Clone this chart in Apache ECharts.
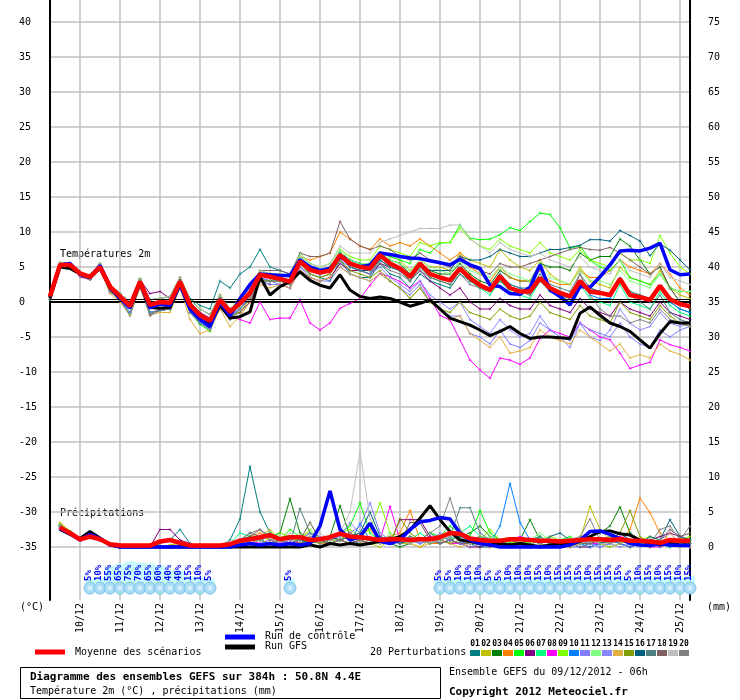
<!DOCTYPE html>
<html>
<head>
<meta charset="utf-8">
<script src="https://cdn.jsdelivr.net/npm/echarts@6/dist/echarts.min.js"></script>
<style>html,body{margin:0;padding:0;background:#fff}#chart{width:740px;height:700px}</style>
</head>
<body>
<div id="chart"></div>
<script>
// axe des temps : pas de 6h depuis le 09/12 06h
var dayLabels = ['10/12','11/12','12/12','13/12','14/12','15/12','16/12','17/12','18/12','19/12','20/12','21/12','22/12','23/12','24/12','25/12'];
var tempTicks = [-35,-30,-25,-20,-15,-10,-5,0,5,10,15,20,25,30,35,40];
var precTicks = [0,5,10,15,20,25,30,35,40,45,50,55,60,65,70,75];
var memberNames = ['01','02','03','04','05','06','07','08','09','10','11','12','13','14','15','16','17','18','19','20'];
var memberColors = ['#008080','#c0c000','#008000','#ff8000','#00ff00','#800080','#00ff80','#ff00ff','#80ff00','#0080ff',
                    '#8080ff','#80ff80','#8888ff','#e0b040','#80a000','#006080','#508080','#806060','#c0c0c0','#808080'];

// températures 2m
var tMean = [0.8,5.3,5.3,4.1,3.6,5.0,2.2,0.8,-0.6,2.9,-0.4,0.0,-0.1,2.9,-0.4,-1.9,-2.7, 0.3,-1.4,-0.2,1.3,3.9,3.6,3.3,2.9,5.8,4.6,4.2,4.5,6.7,5.5,5.0,4.8, 6.7,5.5,4.8,3.6,5.5,4.0,3.5,3.1,4.8,3.4,2.4,1.7,3.7,2.0,1.5,1.5, 3.4,2.0,1.3,0.8,3.0,1.5,1.3,1.0,3.3,1.0,0.7,0.3,2.3,0.4,-0.3,-0.6];
var tCtrl = [0.8,5.3,5.5,4.0,3.5,5.2,2.2,0.5,-0.8,2.8,-0.8,-0.3,-0.5,2.5,-1.0,-2.5,-3.5, 0.0,-2.0,0.5,2.5,4.0,3.9,3.8,3.8,6.0,5.0,4.5,4.8,6.5,5.5,5.0,5.3, 7.0,6.8,6.5,6.3,6.2,5.9,5.6,5.3,6.1,5.3,4.8,2.4,2.2,1.2,1.1,2.1, 5.3,1.7,0.8,-0.4,2.2,2.1,3.6,5.3,7.3,7.4,7.3,7.7,8.4,4.6,3.9,4.0];
var tGfs = [0.5,5.0,4.8,4.0,3.5,4.8,2.0,0.5,-0.8,2.7,-0.8,-0.9,-0.8,2.5,-0.8,-2.5,-3.2, -0.5,-2.3,-2.1,-1.4,3.6,1.0,2.2,2.9,4.3,3.1,2.4,2.0,3.9,1.7,0.8,0.5, 0.7,0.5,0.0,-0.6,-0.2,0.3,-1.0,-2.3,-2.8,-3.3,-4.0,-4.8,-4.2,-3.5,-4.5,-5.2, -5.0,-5.0,-5.1,-5.2,-1.6,-0.7,-1.9,-3.0,-3.5,-4.2,-5.4,-6.6,-4.5,-2.8,-3.0,-3.0];

var t01 = [1.2,5.6,5.5,4.2,3.8,5.5,2.5,1.2,0.0,3.3,0.3,0.5,0.8,3.5,0.5,-0.5,-1.0, 3,2,4,5,7.5,5,4.5,4,6,4,3.5,3,6,4,3.5,3.5, 5.5,4,3.5,2,4,3,2.5,2,4,3,2,1.5,3,2,1.5,1, 3,2,1.5,1,2.5,2,1.5,1,3,1.5,1,0.5,2,0,-1,-1.5];
var t02 = [0.8,5.3,5.2,4.0,3.5,5.0,2.0,0.8,-0.8,2.8,-0.6,-0.1,0.0,2.8,-0.5,-2.0,-2.8, 0,-2,-1,1,3.5,3,3,2.5,5,4,3.5,4,7,6,5.5,5, 7,6.5,6,4.5,6,5,5,4.5,7,6,5.5,5,7.5,6,5,4.5, 6,4,3,2.5,5,3,2.5,2,5,3.5,3,2.5,4.5,2,1,0.5];
var t03 = [0.4,5.0,5.0,3.8,3.2,4.8,1.5,0.3,-1.5,2.3,-1.5,-1.2,-1.0,2.3,-1.5,-3.0,-3.8, -0.5,-2.5,-1,1,3,3,3.5,3,6,5,4.5,5,7,6,5.5,5.5, 7,6,5.5,4,5.5,4.5,4,4,5.5,4,3,2.5,4.5,3.5,3,3, 5.5,5,5,4.5,7,6,6.5,6.5,9,8,6,4,5,2,0,-1];
var t04 = [1.2,5.6,5.5,4.2,3.8,5.5,2.5,1.2,0.0,3.3,0.3,0.5,0.8,3.5,0.3,-1.0,-1.8, 1,-1,0.5,2,4,4,4,3.5,6.5,6,6.5,7,10,9,8,7.5, 9,8,8.5,8,9,8,7,6,7,5,4,3,5,3.5,3,3, 4.5,3,2.5,2.5,4.5,3.5,3.5,4.5,6,5,4.5,4,5.5,4,2,1];
var t05 = [0.4,5.0,5.0,3.8,3.2,4.8,1.5,0.3,-1.8,2.3,-1.5,-1.2,-1.0,2.0,-1.5,-3.2,-4.2, 0,-2,-0.5,1.5,4,4,3.5,3,6,5,4.5,5,7,6,5.5,5.5, 7,6.5,6,5.5,7.5,7,8.4,8.5,11,9.1,8.9,9,9.6,10.6,10.2,11.5, 12.7,12.5,10.6,7.7,8,6,5,4.5,6,3.5,3,2.5,4,2,1.5,1.5];
var t06 = [1.0,5.5,5.5,3.6,3.2,5.3,2.2,1.0,0.0,3.2,1.2,1.5,0.5,3.0,0.0,-1.5,-2.3, 0.5,-2,-1.5,0,3,2.5,2.5,2,4.5,3.5,3,3.5,5.5,4.5,4.5,4, 5.5,5,4.5,3,4.5,3,2,1,2,0,-1,-1,0.5,-0.5,-1,-1, 1,-0.5,-1,-1.5,0.5,-1,-1.5,-2,0,-1,-1.5,-2,0,-1.5,-2,-2.5];
var t07 = [0.8,5.3,5.2,4.0,3.5,5.0,2.0,0.8,-0.8,2.8,-0.6,-0.1,0.0,2.8,-0.5,-2.0,-2.8, 0.5,-1.5,0,1.5,4,3.5,3.5,3,6.5,5,4.5,5,6.5,5,4.5,4.5, 6,5,4.5,3,5,3.5,3,2.5,4.5,3,2,1,3,1.5,1,0.5, 3,1.5,1,0,2.5,0.5,0,-0.5,2.5,0,-0.5,-1,1.5,-0.5,-1.5,-2];
var t08 = [0.8,5.3,5.0,3.8,3.3,4.8,1.8,0.5,-0.8,2.5,-0.8,-0.3,0.0,2.6,-0.5,-2.2,-3.0, 0,-2,-2.5,-3,0,-2.5,-2.3,-2.3,0.3,-3,-4,-3,-0.9,-0.2,0.5,2.4, 4.1,3.6,2.9,2,3,0.5,-1.9,-2.6,-5.4,-8.3,-9.7,-10.9,-8,-8.3,-8.9,-8, -5.2,-4,-4.5,-5,-3,-4,-5,-5.4,-7.3,-9.5,-9,-8.6,-5.4,-6.1,-6.5,-7];
var t09 = [1.2,5.6,5.5,4.2,3.8,5.5,2.5,1.2,0.0,3.3,0.3,0.5,0.8,3.5,0.3,-1.0,-1.8, 1,-1,0.5,2,4.5,4,4,3.5,6.5,5.5,5,5.5,7.5,6.5,6,6, 8,7.5,7,6.5,8.5,8,8.5,8.5,10.5,9,8,7.5,9,8,7.5,7, 8.5,7,6.5,6,7.5,6,5.5,5,7,6,6,5.5,9.5,7,5,4];
var t10 = [0.4,5.0,5.0,3.8,3.2,4.8,1.5,0.3,-1.5,2.3,-1.5,-1.2,-1.0,2.3,-1.5,-3.0,-3.8, 0,-2,-1,1,3.5,3,3,2.5,6,4.5,4,4.5,7,6,5.5,5, 6,5,4.5,3.5,5.5,4,3.5,3,5,3,2.5,2,4,2.5,2,1.5, 3.5,2,1,0.5,3,1,0.5,0.5,3,1,0.5,0,2,0,-1,-1.5];
var t11 = [0.4,5.0,5.0,3.8,3.2,4.8,1.5,0.3,-1.5,2.3,-1.5,-1.2,-1.0,2.3,-1.5,-3.0,-3.8, 0,-2,-1,1,3.5,3,2.5,2,5,3.5,3,3,5,4,3.5,3, 4,3,2,1,2.5,0,-1,-2,-2,-4.5,-5,-6,-4,-6,-6.5,-5.5, -3,-4,-5,-5.5,-3,-4,-4.5,-5,-3,-5,-6,-6.5,-4,-5,-4,-3.5];
var t12 = [1.2,5.6,5.5,4.2,3.8,5.5,2.5,1.2,0.0,3.3,0.3,0.5,0.8,3.5,0.3,-1.0,-1.8, 1,-1,0.5,2,4.5,4,4,3.5,7,5.5,5,5.5,7.5,6,5.5,5.5, 7,6,5.5,4.5,6,5,4.5,4,6,4.5,4,3.5,5,4,3.5,3, 5,3.5,3,2.5,4.5,3,3,2.5,4.5,3,2.5,2,4,2,1.5,1.5];
var t13 = [0.8,5.3,5.2,4.0,3.5,5.0,2.0,0.8,-0.8,2.8,-0.6,-0.1,0.0,2.8,-0.5,-2.0,-2.8, 0.5,-1.5,-1,0.5,3,2.5,2.5,2,5,4,3.5,4,6,5,4.5,4, 5,3.5,2.5,1.5,3,1,0,-1,0,-2.5,-3.5,-4.5,-2.5,-4,-5,-4.5, -2,-4,-5,-6.5,-3,-5,-5.5,-4,-1,-3,-4,-3.5,-1.5,-3,-3.5,-3];
var t14 = [0.5,5.0,5.0,3.8,3.2,4.8,1.2,0.0,-1.8,2.0,-1.8,-1.5,-1.5,2.0,-2.5,-4.5,-4.0, -1,-3.5,-2,0,2.5,2,2.5,2,4.5,3.5,3,3.5,5,4,3.5,3, 4,3,2,0.5,2,0,-1,-2.5,-2,-4.5,-5.5,-6.5,-5,-7.3,-7,-6.5, -4,-5,-5.5,-6,-4,-5,-6,-7,-6,-8,-7.5,-8,-6,-7,-7.5,-8.3];
var t15 = [0.8,5.3,5.2,4.0,3.5,5.0,2.0,0.8,-0.8,2.8,-0.6,-0.1,0.0,2.8,-0.5,-2.0,-2.8, 0,-2,-1.5,0.5,3,3,3,2.5,5.5,4,3.5,4,6,4.5,4,3.5, 4.5,3,2,0.5,2,0,-1,-1.5,0,-1.5,-2,-2.5,-1,-2,-2.5,-2, 0,-1.5,-2,-2.5,-0.5,-2,-2.5,-3,0,-1.5,-2,-2.5,-0.5,-2,-3,-3.5];
var t16 = [0.8,5.3,5.2,4.0,3.5,5.0,2.0,0.8,-0.8,2.8,-0.6,-0.1,0.0,2.8,-0.5,-2.0,-2.8, 0.5,-1.5,0,1.5,4,3.5,3.5,3,6,4.5,4,4.5,6.5,5,4.5,4.5, 6,5,4.5,3.5,5.5,4.5,4.5,4.5,6.5,6,6,6.5,7.5,7,6.5,6.5, 7,7.5,7.5,7.8,8.1,8.9,8.9,8.7,10.2,9.5,8.7,6.6,8.3,7.4,6,4.6];
var t17 = [1.2,5.6,5.5,4.2,3.8,5.5,2.5,1.2,0.0,3.3,0.3,0.5,0.8,3.5,0.3,-1.0,-1.8, 1,-1,0,1.5,4,3.5,3.5,3,6,4.5,4,4.5,6.5,5,4.5,4, 6,5,4.5,3,5,3.5,3,2.5,4.5,3,2.5,2,4,2.5,2,2, 4,2.5,2,1.5,4,2,1.5,1,3.5,1,0,-1,1,-1.5,-2.5,-3];
var t18 = [0.6,5.2,5.3,4.0,3.6,5.2,2.3,1.0,-0.5,3.0,-1.8,-1.0,-0.5,3.2,-0.5,-2.5,-3.5, 0.5,-1.5,0.5,2,4.5,4.5,4.5,4,7,6.5,6.5,7,11.5,9,8,7.5, 8,7.5,6.5,6,7,6,5.5,5,6.5,5,4.5,4,5.5,5,5,5.5, 6,6.5,7,7.5,7.8,7.5,7.4,7.8,7,6,5,4,5,2,0,-1];
var t19 = [1.2,5.6,5.5,4.2,3.8,5.5,2.5,1.2,0.0,3.3,0.3,0.5,0.8,3.5,0.3,-1.0,-1.8, 1,-1,0.5,2,4.5,4,4,3.5,6.5,5.5,5,5.5,8,7,7,7, 8.5,9,9.5,10,10.5,10.5,10.5,11,11,9,8,7,8.5,7.5,7,6.5, 7,6,5.5,5,6.5,5,4.5,4,6,4.5,4,3.5,5.5,3.5,3,2.5];
var t20 = [0.4,5.0,5.0,3.8,3.2,4.8,1.5,0.3,-2.0,2.3,-2.0,-1.2,-1.0,2.3,-1.5,-3.0,-4.0, -0.5,-2.5,-1,0.5,3,3,3,2.5,5.5,4.5,4,4.5,6.5,5.5,5,4.5, 5.5,4.5,4,3,4.5,3.5,3,2.5,4,2.5,2,1.5,3,2,1.5,1, 3,1.5,1,0.5,4,1,-1,-2,-2,-3,-2.5,-3,-1,-2.5,-3,-3.5];

// précipitations (mm / 6h)
var pMean = ['-',2.8,2.0,1.1,1.5,1.1,0.4,0.2,0.2,0.2,0.2, 0.8,1.0,0.6,0.2,0.2,0.2,0.2,0.4,0.9,1.1, 1.4,1.7,1.1,1.4,1.4,1.0,1.1,1.4,1.9,1.5, 1.4,1.2,1.0,1.1,1.1,1.0,1.1,1.1,1.4,2.0, 1.9,1.2,1.0,0.9,0.9,1.1,1.1,1.0,0.9,0.9, 0.8,0.9,1.0,1.1,1.1,1.0,1.1,0.9,0.9,0.8, 0.6,1.0,0.9,0.9];
var pCtrl = ['-',2.6,1.9,1.0,1.8,1.2,0.3,0,0,0,0, 0,0,0,0,0,0,0,0,0.3,0.5, 0.3,0.5,0.3,0.5,0.3,0.5,3.0,8.0,2.5,1.0, 1.5,3.4,0.8,0.5,1.0,2.5,3.6,3.8,4.2,4.0, 2.0,1.0,0.5,0.3,0,0,0,0,0,0, 0,0.3,1.0,2.2,2.3,1.8,1.2,0.5,0.3,0.2, 0.5,0.3,0.2,0.2];
var pGfs = ['-',2.5,1.8,1.2,2.2,1.3,0.3,0,0,0,0, 0,0,0,0,0,0,0,0,0,0, 0,0,0,0,0,0.3,0,0.5,0.3,0.5, 0.3,0.5,0.8,1,1.5,2.4,4.1,5.9,3.9,2.2, 1,0.8,0.5,0.3,0.5,0.3,0.5,0.3,0,0.3, 0.5,0.3,0.8,1.5,2.2,2.3,1.9,1.7,1,0.5, 0.3,0.5,0.3,0.3];

var p01 = ['-',3.2,2,1,1.5,1.2,0.3,0,0,0,0, 0.5,1,2.5,0.5,0,0,0,1,4,11.5, 5,2,1,1.5,0.5,1,0.5,1,2,1, 0.5,1,0.5,1,0.5,1.5,1,0.5,0.5,1, 1.5,0.5,0,0,0.5,1,0.5,0,1.5,0.5, 0,0.5,1,0.5,0,0.5,1,2,0.5,0, 0.5,1,0.5,0];
var p02 = ['-',2.8,2,1.2,1.5,1,0.2,0,0,0,0, 0,0.3,0.5,0,0,0,0,0,0.5,1, 1.5,2.5,1,0.5,1,0.5,0,0.5,1,0.5, 1,0.5,0,1,0.5,0.5,0,1,1.5,1, 0.5,1,1.5,1,0.5,0,0.5,1,0.5,1, 0.5,0,1,5.8,2.5,1,0.5,0,0.5,0.5, 1,0.5,0,0.5];
var p03 = ['-',2.6,1.8,1,1.4,1,0.3,0,0,0,0, 0,0,0.3,0,0,0,0,0,0.5,1, 1,1.5,2,6.9,2,1,0.5,1.5,5.9,1.5, 1,0.5,1,0.5,0,0.5,1,1.5,0.5,1, 1.5,2,3,1.5,1,0.5,1,3.9,1,0.5, 0,0.5,1,1.5,2,3,5.7,2,1,0.5, 0.5,1,0.5,0.5];
var p04 = ['-',3.5,2.2,1,1.5,1,0.5,0,0,0,0, 0,0,0,0,0,0,0,0,0.5,1.5, 2,1,0.5,1,1.5,2,1,0.5,1,1.5, 2,2.5,1,1.5,2,5.2,1,0.5,0.5,1, 0.5,0,0.5,1,0.5,1,0.5,0,0.5,1, 0.5,0,0.5,1,0.5,0.5,1,2.5,7,4.9, 2,1,0.5,0.5];
var p05 = ['-',3,2,1,1.5,1,0.3,0,0,0,0, 0,0,0,0,0,0,0,0.5,1,1.5, 1,2,1,2.5,1.5,1,0.5,1,2,3, 6.3,2,1,0.5,1,0.5,1,2,1.5,3, 2,1.5,5.2,2,1,0.5,1,0.5,0,0.5, 1,1.5,0.5,1,0.5,0,0.5,1,0.5,1, 0.5,0,1,0.5];
var p06 = ['-',2.5,1.8,1,1.3,1,0.2,0,0,0,0, 2.5,2.5,1,0.5,0,0,0,0,0.5,1, 1,0.5,1,1.5,1,0.5,1,0.5,1,0.5, 1,0.5,1,0.5,3.9,3.9,3.9,1.5,0.5,1, 0.5,0,0,0.5,0,0,0.5,0,0,0.5, 0,0.5,0,0,0.5,1,0.5,0,0.5,1, 1.5,2,1.5,1];
var p07 = ['-',3,2.2,1,1.5,1.2,0.4,0,0,0,0, 0,0,0,0,0,0,0,0.5,2,1.5, 1.5,2,1,0.5,1,2,1,0.5,1,1.5, 2,1,0.5,1,0.5,1,2,1,0.5,1, 2,3,1.5,1,0.5,1,0.5,1,1.5,0.5, 1,0.5,1,1.5,1,0.5,1,0.5,0,0.5, 1,0.5,0.5,1];
var p08 = ['-',2.7,2,1,1.5,1,0.2,0,0,0,0, 0,0,0,0,0,0,0,0,0.5,1, 0.5,1,0.5,1,0.5,1,0.5,1,1.5,2, 1,0.5,1,5.8,1,0.5,1,1.5,1,0.5, 0.5,1,0.5,0,0.5,1,1.5,1,0.5,0, 0,0.5,1,0.5,0.5,1,1.5,1,0.5,0, 0,0.5,0.5,0];
var p09 = ['-',3.3,2.3,1.2,1.6,1,0.4,0,0,0,0, 0,0,0,0,0,0,0,0.5,1,1.5, 1.5,1,2,1.5,1,2.5,1,1.5,2,2.5, 1.5,2.5,6.3,2,1,0.5,1,0.5,1,1.5, 1,0.5,1,2.5,1,0.5,1,0.5,1,1.5, 1,0.5,1,0.5,1,1.5,1,0.5,1,1.5, 1,0.5,1,1.5];
var p10 = ['-',3,2,1,1.5,1,0.3,0,0,0,0, 0,0,0,0,0,0,0,0,0.5,0.5, 1,0.5,1,1.5,1,0.5,1,0.5,1,0.5, 3.4,1,0.5,1,0.5,1,0.5,1,1.5,1, 0.5,1,1,0.5,3,9.1,3.5,1,0.5,0, 0.5,1,0.5,0,0.5,1,0.5,0,0.5,1, 0.5,0,0.5,0.5];
var p11 = ['-',2.9,2,1,1.4,1,0.3,0,0,0,0, 0,0,0,0,0,0,0,0,0.5,1, 1,1.5,1,0.5,1,2,1.5,1,1.5,2, 3,6.3,2,1,0.5,1,0.5,1,2,1, 0.5,1,0.5,0,0.5,0,0,0.5,0,0, 0.5,0,0,0.5,0,0.5,1,0.5,0,0.5, 1,2,0.5,0];
var p12 = ['-',3.1,2.1,1.1,1.5,1.1,0.3,0,0,0,0, 0,0,0,0,0,0,0,0.5,1,1.5, 1,2,1.5,1,1,3.5,1,0.5,1.5,1, 1.5,1,0.5,2,1,0.5,1,2,1,1.5, 1,0.5,1,1.5,1,0.5,0.5,1,2,1, 0.5,0.5,1,0.5,1,1.5,1,0.5,1,0.5, 0.5,1,0.5,1];
var p13 = ['-',2.8,1.9,1,1.4,1,0.3,0,0,0,0, 0,0,0,0,0,0,0,0,0,0.5, 0.5,1,0.5,1,1.5,1,0.5,1,1.5,3.5, 2,1,0.5,1,1.5,1,0.5,1,0.5,1, 0.5,0,0.5,1,0.5,0,0.5,0,0,0.5, 0,0.5,1,0.5,0,0.5,0,0.5,1,0.5, 0,0.5,1,0.5];
var p14 = ['-',3,2,1,1.5,1,0.3,0,0,0,0, 0,0,0,0,0,0,0,0,0.3,0.5, 1,2,1,0.5,0.5,1,0.5,0.5,1,0.5, 0.5,1,0.5,0.5,1,0.5,0,0.5,1,0.5, 0,0.5,0.5,0,0,0,0.5,0,0,0.5, 0,0,0.5,1,0.5,0,0.5,1,0.5,0, 0.5,2,0.5,0];
var p15 = ['-',2.9,2,1,1.5,1,0.3,0,0,0,0, 0,0,0,0,0,0,0,0,0.5,1, 1,0.5,1,1.5,0.5,1,0.5,1,1,2, 1,0.5,1,0.5,4.1,2,1,0.5,1,0.5, 1,0.5,0.5,1,0.5,0,0.5,1,0.5,0, 0.5,1,0.5,1.5,0.5,1,2,5.2,1.5,0.5, 0.5,1,0.5,0.5];
var p16 = ['-',3,2.1,1,1.5,1.1,0.3,0,0,0,0, 0,0,0,0,0,0,0,0.5,1,1.5, 1,1.5,1,0.5,1,0.5,1,1.5,1,1.5, 2,5,1.5,1,0.5,1,1,0.5,1,1.5, 1,0.5,1,0.5,0,0.5,0.5,1,0.5,1.5, 2,1,0.5,1,0.5,1,2,1,0.5,1.5, 1,3.9,1.5,1];
var p17 = ['-',3.1,2,1,1.5,1,0.4,0,0,0,0, 0,0,0,0,0,0,0,0.5,1,2, 1.5,2,1,0.5,5.5,2,1,0.5,1,1.5, 1,0.5,1,1.5,1,0.5,1,2,1,1.5, 5.6,5.6,2,1,0.5,1,0.5,1,1.5,0.5, 1,0.5,0,0.5,1,0.5,1,0.5,1,0.5, 0.5,1,0.5,0.5];
var p18 = ['-',2.9,2,1,1.6,1,0.3,0,0,0,0, 0,0,0,0,0,0,0,0,0.5,1.5, 2.5,1,1,0.5,1,3.5,1,0.5,1,0.5, 1,0.5,1.5,1,0.5,3.5,3.5,1,0.5,1, 0.5,0.5,1,0.5,0,0.5,0.5,0,0.5,1, 0.5,0,0.5,0.5,1,1.5,1,0.5,1,0.5, 1,2.5,1.5,2];
var p19 = ['-',3,2,1,1.4,1,0.3,0,0,0,0, 0,0,0,0,0,0,0,0,0.5,1, 1,1.5,1,2,1,1.5,2,1,2,5, 13.6,4,1,0.5,1,0.5,1,0.5,1,1.5, 1,0.5,1,0.5,0.5,1,0.5,0,0.5,1, 0.5,0,0.5,1,0.5,0.5,1,0.5,0,0.5, 1,0.5,0.5,0];
var p20 = ['-',3,2.1,1.1,1.5,1,0.3,0,0,0,0, 0,0,0,0,0,0,0,0.5,1,2, 2.5,1.5,1,0.5,1,1.5,1,0.5,1,1.5, 1,0.5,1,0.5,1,1.5,1,2,3,7, 2.5,1,1.5,1,0.5,1,0.5,1,0.5,1, 0.5,1,1.5,4,1,0.5,1,0.5,1,0.5, 2.5,3,1,3];

// probabilité de neige (%), index du pas de temps
var snowIdx = [4,5,6,7,8,9,10,11,12,13,14,15,16, 24, 39,40,41,42,43,44,45,46,47,48,49,50,51,52,53,54,55,56,57,58,59,60,61,62,63,64];
var snowProb = [5,10,55,65,75,70,65,60,40,40,15,10,5, 5, 5,5,10,10,10,5,5,10,10,10,15,10,15,15,15,10,15,15,15,5,10,15,10,15,10,15];

var tPert = [t01,t02,t03,t04,t05,t06,t07,t08,t09,t10,t11,t12,t13,t14,t15,t16,t17,t18,t19,t20];
var pPert = [p01,p02,p03,p04,p05,p06,p07,p08,p09,p10,p11,p12,p13,p14,p15,p16,p17,p18,p19,p20];

var F = 'DejaVu Sans Mono';
var steps = [];
for (var i = 0; i < tMean.length; i++) steps.push('h' + (6 * i));
var isDay = function (idx) { return idx % 4 === 3; };

var chart = echarts.init(document.getElementById('chart'));
var series = [];

// ligne du zéro (double trait)
series.push({
  type: 'line', data: [], yAxisIndex: 0, z: 1, silent: true,
  markLine: { symbol: 'none', silent: true, label: { show: false }, animation: false,
    lineStyle: { color: '#000', width: 1, type: 'solid' },
    data: [{ yAxis: 0.1 }, { yAxis: 0.45 }] }
});

var plus = 'path://M2,0h1v2h2v1h-2v2h-1v-2h-2v-1h2z';
for (var k = 0; k < tPert.length; k++) {
  series.push({ name: memberNames[k], type: 'line', data: tPert[k], yAxisIndex: 0, z: 2,
    color: memberColors[k], lineStyle: { width: 1 }, symbol: plus, symbolSize: 3, showSymbol: true });
  series.push({ name: memberNames[k], type: 'line', data: pPert[k], yAxisIndex: 1, z: 2,
    color: memberColors[k], lineStyle: { width: 1 }, symbol: plus, symbolSize: 3, showSymbol: true });
}
series.push({ name: 'Run GFS', type: 'line', data: tGfs, yAxisIndex: 0, z: 3, color: '#000', lineStyle: { width: 3 }, showSymbol: false });
series.push({ name: 'Run GFS', type: 'line', data: pGfs, yAxisIndex: 1, z: 3, color: '#000', lineStyle: { width: 3 }, showSymbol: false });
series.push({ name: 'Run de contrôle', type: 'line', data: tCtrl, yAxisIndex: 0, z: 4, color: '#0000ff', lineStyle: { width: 3.5 }, showSymbol: false });
series.push({ name: 'Run de contrôle', type: 'line', data: pCtrl, yAxisIndex: 1, z: 4, color: '#0000ff', lineStyle: { width: 3.5 }, showSymbol: false });
series.push({ name: 'Moyenne des scénarios', type: 'line', data: tMean, yAxisIndex: 0, z: 5, color: '#ff0000', lineStyle: { width: 4.5 }, showSymbol: false });
series.push({ name: 'Moyenne des scénarios', type: 'line', data: pMean, yAxisIndex: 1, z: 5, color: '#ff0000', lineStyle: { width: 4.5 }, showSymbol: false });

var snowData = snowIdx.map(function (ix, j) { return [ix, snowProb[j]]; });
series.push({
  type: 'custom', yAxisIndex: 0, z: 2, silent: true, data: snowData,
  renderItem: function (params, api) {
    var base = api.coord([api.value(0), -40.29]);
    var h = 4 + api.value(1) * 0.25;
    return { type: 'group', children: [
      { type: 'rect', shape: { x: base[0] - 5, y: base[1] - h, width: 10, height: h }, style: { fill: '#c8fcfc' } },
      { type: 'text', x: base[0] - 1, y: base[1] - 3, rotation: Math.PI / 2,
        style: { text: api.value(1) + '%', font: 'bold 9px ' + F, fill: '#0000ff', textAlign: 'left', textVerticalAlign: 'middle' } }
    ] };
  }
});
series.push({
  type: 'custom', yAxisIndex: 0, z: 3, silent: true, data: snowData,
  renderItem: function (params, api) {
    var c = api.coord([api.value(0), -40.86]);
    var x = c[0], y = c[1];
    return { type: 'group', children: [
      { type: 'circle', shape: { cx: x, cy: y, r: 6 }, style: { fill: '#a8dcf5', stroke: '#7cc2ea', lineWidth: 1 } },
      { type: 'line', shape: { x1: x - 3, y1: y, x2: x + 3, y2: y }, style: { stroke: '#e8f8ff', lineWidth: 1 } },
      { type: 'line', shape: { x1: x - 1.5, y1: y - 2.6, x2: x + 1.5, y2: y + 2.6 }, style: { stroke: '#e8f8ff', lineWidth: 1 } },
      { type: 'line', shape: { x1: x + 1.5, y1: y - 2.6, x2: x - 1.5, y2: y + 2.6 }, style: { stroke: '#e8f8ff', lineWidth: 1 } }
    ] };
  }
});

// légende et cartouche
var graphics = [
  { type: 'text', x: 60, y: 254, style: { text: 'Températures 2m', font: '10px ' + F, fill: '#000', textVerticalAlign: 'middle' } },
  { type: 'text', x: 60, y: 513, style: { text: 'Précipitations', font: '10px ' + F, fill: '#000', textVerticalAlign: 'middle' } },
  { type: 'text', x: 20, y: 607, style: { text: '(°C)', font: '10px ' + F, fill: '#000', textVerticalAlign: 'middle' } },
  { type: 'text', x: 707, y: 607, style: { text: '(mm)', font: '10px ' + F, fill: '#000', textVerticalAlign: 'middle' } },
  { type: 'line', shape: { x1: 35, y1: 652, x2: 65, y2: 652 }, style: { stroke: '#ff0000', lineWidth: 5 } },
  { type: 'text', x: 75, y: 652, style: { text: 'Moyenne des scénarios', font: '10px ' + F, fill: '#000', textVerticalAlign: 'middle' } },
  { type: 'line', shape: { x1: 225, y1: 637, x2: 255, y2: 637 }, style: { stroke: '#0000ff', lineWidth: 5 } },
  { type: 'text', x: 265, y: 636, style: { text: 'Run de contrôle', font: '10px ' + F, fill: '#000', textVerticalAlign: 'middle' } },
  { type: 'line', shape: { x1: 225, y1: 647, x2: 255, y2: 647 }, style: { stroke: '#000', lineWidth: 5 } },
  { type: 'text', x: 265, y: 646, style: { text: 'Run GFS', font: '10px ' + F, fill: '#000', textVerticalAlign: 'middle' } },
  { type: 'text', x: 370, y: 652, style: { text: '20 Perturbations', font: '10px ' + F, fill: '#000', textVerticalAlign: 'middle' } },
  { type: 'rect', shape: { x: 20.5, y: 667.5, width: 420, height: 31 }, style: { fill: '#fff', stroke: '#000', lineWidth: 1 } },
  { type: 'text', x: 30, y: 677, style: { text: 'Diagramme des ensembles GEFS sur 384h : 50.8N 4.4E', font: 'bold 11px ' + F, fill: '#000', textVerticalAlign: 'middle' } },
  { type: 'text', x: 30, y: 691, style: { text: 'Température 2m (°C) , précipitations (mm)', font: '10px ' + F, fill: '#000', textVerticalAlign: 'middle' } },
  { type: 'text', x: 449, y: 672, style: { text: 'Ensemble GEFS du 09/12/2012 - 06h', font: '10px ' + F, fill: '#000', textVerticalAlign: 'middle' } },
  { type: 'text', x: 449, y: 692, style: { text: 'Copyright 2012 Meteociel.fr', font: 'bold 11px ' + F, fill: '#000', textVerticalAlign: 'middle' } }
];
memberColors.forEach(function (col, k) {
  var x0 = 470 + k * 11;
  graphics.push({ type: 'rect', shape: { x: x0, y: 650, width: 10, height: 6 }, style: { fill: col } });
  graphics.push({ type: 'text', x: x0 + 5, y: 644, style: { text: memberNames[k], font: 'bold 8px ' + F, fill: '#000', textAlign: 'center', textVerticalAlign: 'middle' } });
});

chart.setOption({
  animation: false,
  backgroundColor: '#fff',
  grid: { left: 50, right: 50, top: 0, bottom: 100 },
  xAxis: {
    type: 'category', data: steps, boundaryGap: false,
    axisLine: { lineStyle: { color: '#000', width: 2 } },
    axisTick: { show: false },
    axisLabel: { interval: isDay, rotate: 90, margin: 3, fontFamily: F, fontSize: 10, color: '#000',
      formatter: function (v, idx) { return dayLabels[(idx - 3) / 4] || ''; } },
    splitLine: { show: true, interval: isDay, lineStyle: { color: '#c0c0c0', width: 1.5 } }
  },
  yAxis: [{
    type: 'value', min: -42.5714, max: 43.1429, position: 'left',
    axisLine: { show: true, lineStyle: { color: '#000', width: 2 } },
    axisTick: { show: false, customValues: tempTicks },
    axisLabel: { customValues: tempTicks, align: 'left', margin: 31, fontFamily: F, fontSize: 10, color: '#000' },
    splitLine: { show: true, lineStyle: { color: '#c0c0c0', width: 1.5 } }
  }, {
    type: 'value', min: -7.5714, max: 78.1429, position: 'right',
    axisLine: { show: true, lineStyle: { color: '#000', width: 2 } },
    axisTick: { show: false, customValues: precTicks },
    axisLabel: { customValues: precTicks, align: 'left', margin: 18, fontFamily: F, fontSize: 10, color: '#000' },
    splitLine: { show: false }
  }],
  series: series,
  graphic: graphics
});
</script>
</body>
</html>
